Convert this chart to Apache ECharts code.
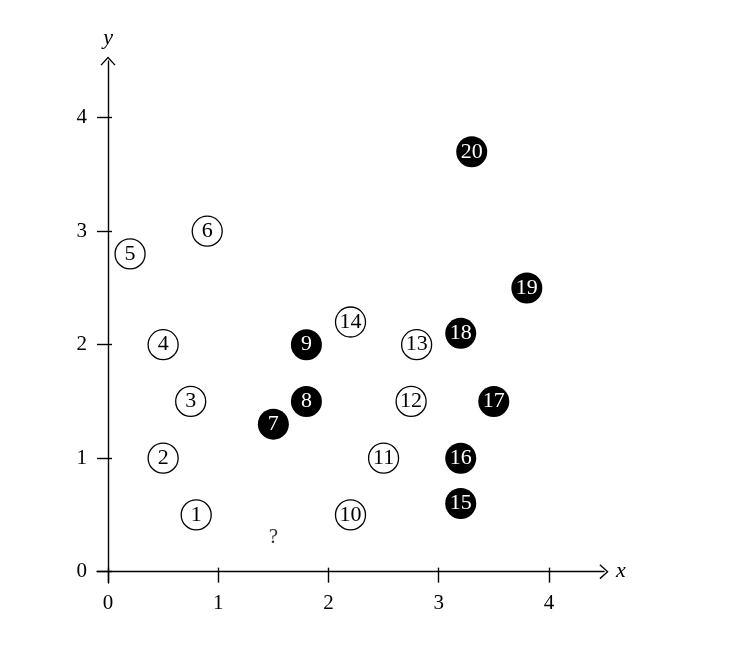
<!DOCTYPE html>
<html>
<head>
<meta charset="utf-8">
<script src="https://cdn.jsdelivr.net/npm/echarts@6/dist/echarts.min.js"></script>
<style>html,body{margin:0;padding:0;background:#fff}#c{width:738px;height:646px}</style>
</head>
<body>
<div id="c"></div>
<script>
const tickValues = [0, 1, 2, 3, 4];
const openLabels = ['1', '2', '3', '4', '5', '6', '10', '11', '12', '13', '14'];
const openX = [0.8, 0.5, 0.75, 0.5, 0.2, 0.9, 2.2, 2.5, 2.75, 2.8, 2.2];
const openY = [0.5, 1.0, 1.5, 2.0, 2.8, 3.0, 0.5, 1.0, 1.5, 2.0, 2.2];
const filledLabels = ['7', '8', '9', '15', '16', '17', '18', '19', '20'];
const filledX = [1.5, 1.8, 1.8, 3.2, 3.2, 3.5, 3.2, 3.8, 3.3];
const filledY = [1.3, 1.5, 2.0, 0.6, 1.0, 1.5, 2.1, 2.5, 3.7];
const unknownLabels = ['?'];
const unknownX = [1.5];
const unknownY = [0.3];

const FONT = 'Liberation Serif';
const chevron = 'path://M0,0 L10,11 L8.6,12.2 L0,2.6 L-8.6,12.2 L-10,11 Z';

function pts(xs, ys, names) {
  return xs.map((x, i) => ({ name: names[i], value: [x, ys[i]] }));
}

const tickStyle = { color: '#000', width: 1.4 };

const chart = echarts.init(document.getElementById('c'));
chart.setOption({
  backgroundColor: '#fff',
  animation: false,
  grid: { left: 97, right: 134, top: 61, bottom: 63 },
  xAxis: [
    {
      type: 'value', min: -0.1, max: 4.5, splitLine: { show: false },
      axisLine: { onZero: true, onZeroAxisIndex: 0, symbol: ['none', chevron], symbolSize: [15, 10], lineStyle: { color: '#000', width: 1.4 } },
      axisTick: { show: true, customValues: tickValues, length: 11, lineStyle: tickStyle },
      axisLabel: { customValues: tickValues, color: '#000', fontFamily: FONT, fontSize: 21, margin: 10 },
      name: 'x', nameLocation: 'end', nameGap: 12,
      nameTextStyle: { color: '#000', fontFamily: FONT, fontStyle: 'italic', fontSize: 22 }
    },
    {
      type: 'value', min: -0.1, max: 4.5, splitLine: { show: false },
      position: 'bottom',
      axisLine: { show: true, onZero: true, onZeroAxisIndex: 0, lineStyle: { color: 'rgba(0,0,0,0)', width: 0 } },
      axisTick: { show: true, customValues: tickValues, inside: true, length: 4, lineStyle: tickStyle },
      axisLabel: { show: false }
    }
  ],
  yAxis: [
    {
      type: 'value', min: -0.1, max: 4.5, splitLine: { show: false },
      axisLine: { onZero: true, onZeroAxisIndex: 0, symbol: ['none', chevron], symbolSize: [15, 10], lineStyle: { color: '#000', width: 1.4 } },
      axisTick: { show: true, customValues: tickValues, length: 11, lineStyle: tickStyle },
      axisLabel: { customValues: tickValues, color: '#000', fontFamily: FONT, fontSize: 21, margin: 10 },
      name: 'y', nameLocation: 'end', nameGap: 12,
      nameTextStyle: { color: '#000', fontFamily: FONT, fontStyle: 'italic', fontSize: 22 }
    },
    {
      type: 'value', min: -0.1, max: 4.5, splitLine: { show: false },
      position: 'left',
      axisLine: { show: true, onZero: true, onZeroAxisIndex: 0, lineStyle: { color: 'rgba(0,0,0,0)', width: 0 } },
      axisTick: { show: true, customValues: tickValues, inside: true, length: 4, lineStyle: tickStyle },
      axisLabel: { show: false }
    }
  ],
  series: [
    {
      type: 'scatter', xAxisIndex: 0, yAxisIndex: 0,
      data: pts(openX, openY, openLabels),
      symbolSize: 30,
      itemStyle: { color: '#fff', borderColor: '#000', borderWidth: 1.3, opacity: 1 },
      label: { show: true, position: 'inside', formatter: '{b}', color: '#000', fontFamily: FONT, fontSize: 22 }
    },
    {
      type: 'scatter', xAxisIndex: 0, yAxisIndex: 0,
      data: pts(filledX, filledY, filledLabels),
      symbolSize: 31,
      itemStyle: { color: '#000', opacity: 1 },
      label: { show: true, position: 'inside', formatter: '{b}', color: '#fff', fontFamily: FONT, fontSize: 22 }
    },
    {
      type: 'scatter', xAxisIndex: 1, yAxisIndex: 1,
      data: pts(unknownX, unknownY, unknownLabels),
      symbolSize: 1,
      itemStyle: { color: 'rgba(0,0,0,0)' },
      label: { show: true, position: 'inside', formatter: '{b}', color: '#000', fontFamily: FONT, fontSize: 21 }
    }
  ]
});
</script>
</body>
</html>
